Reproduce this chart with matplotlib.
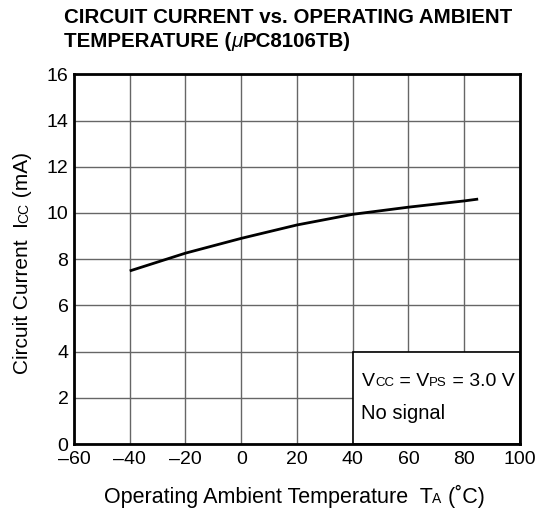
import matplotlib
matplotlib.use('Agg')
import matplotlib.pyplot as plt
from matplotlib.patches import Rectangle

plt.rcParams['font.family'] = ['Liberation Sans', 'DejaVu Sans']

W, H = 538, 511

# curve
temp = [-40, -20, 0, 20, 40, 60, 80, 85]
icc = [7.49, 8.26, 8.90, 9.48, 9.94, 10.25, 10.52, 10.6]

xticks = [-60, -40, -20, 0, 20, 40, 60, 80, 100]
xticklabels = ['\u201360', '\u201340', '\u201320', '0', '20', '40', '60', '80', '100']
yticks = [0, 2, 4, 6, 8, 10, 12, 14, 16]

BIG = 15
SMALL = 10

fig = plt.figure(figsize=(W / 100, H / 100), dpi=100)
ax = fig.add_axes([0.1375, 0.1311, 0.829, 0.7235])
renderer = fig.canvas.get_renderer()


def mixed_text(x, y, parts, vertical=False, center=False):
    # place text pieces of different sizes/styles on one baseline
    # (x, y in pixels from the top-left corner)
    objs = []
    for p in parts:
        s, size = p[0], p[1]
        kw = p[2] if len(p) > 2 else {}
        t = fig.text(0, 0, s, fontsize=size, ha='left', va='baseline',
                     rotation=90 if vertical else 0, rotation_mode='anchor', **kw)
        objs.append(t)
    sizes = []
    for t in objs:
        bb = t.get_window_extent(renderer)
        sizes.append(bb.height if vertical else bb.width)
    pos = (y if vertical else x)
    if center:
        pos = pos + sum(sizes) / 2 if vertical else pos - sum(sizes) / 2
    for t, d in zip(objs, sizes):
        if vertical:
            t.set_position((x / W, 1 - pos / H))
            pos -= d
        else:
            t.set_position((pos / W, 1 - y / H))
            pos += d


ax.set_xlim(-60, 100)
ax.set_ylim(0, 16)
ax.set_xticks(xticks)
ax.set_xticklabels(xticklabels)
ax.set_yticks(yticks)
ax.tick_params(length=0, labelsize=14)
ax.tick_params(axis='x', pad=5)
ax.tick_params(axis='y', pad=4)
ax.grid(True, color='#666666', linewidth=1.0)
ax.set_axisbelow(True)
for s in ax.spines.values():
    s.set_linewidth(2.0)
    s.set_color('black')

ax.plot(temp, icc, color='black', linewidth=2.0, solid_capstyle='butt', zorder=3)

# condition box in the lower right
ax.add_patch(Rectangle((40, 0), 60, 4, facecolor='white', edgecolor='black',
                       linewidth=1.2, zorder=2))

mixed_text(362, 386, [('V', 14), ('CC', 9.5), (' = V', 14), ('PS', 9.5), (' = 3.0 V', 14)])
mixed_text(361, 419, [('No signal', 14.5)])

mixed_text(294, 503, [('Operating Ambient Temperature  T', 15.5), ('A', 10), (' (\u02daC)', 15.5)],
           center=True)
mixed_text(28, 263, [('Circuit Current  I', BIG), ('CC', SMALL), (' (mA)', BIG)],
           vertical=True, center=True)

bold = {'fontweight': 'bold'}
fig.text(64 / W, 1 - 23 / H, 'CIRCUIT CURRENT vs. OPERATING AMBIENT',
         fontsize=14.8, fontweight='bold', va='baseline')
mixed_text(64, 47, [('TEMPERATURE (', 14.8, bold),
                    ('\u03bc', 14.8, {'fontstyle': 'italic'}),
                    ('PC8106TB)', 14.8, bold)])

fig.savefig('out.png', dpi=100)
